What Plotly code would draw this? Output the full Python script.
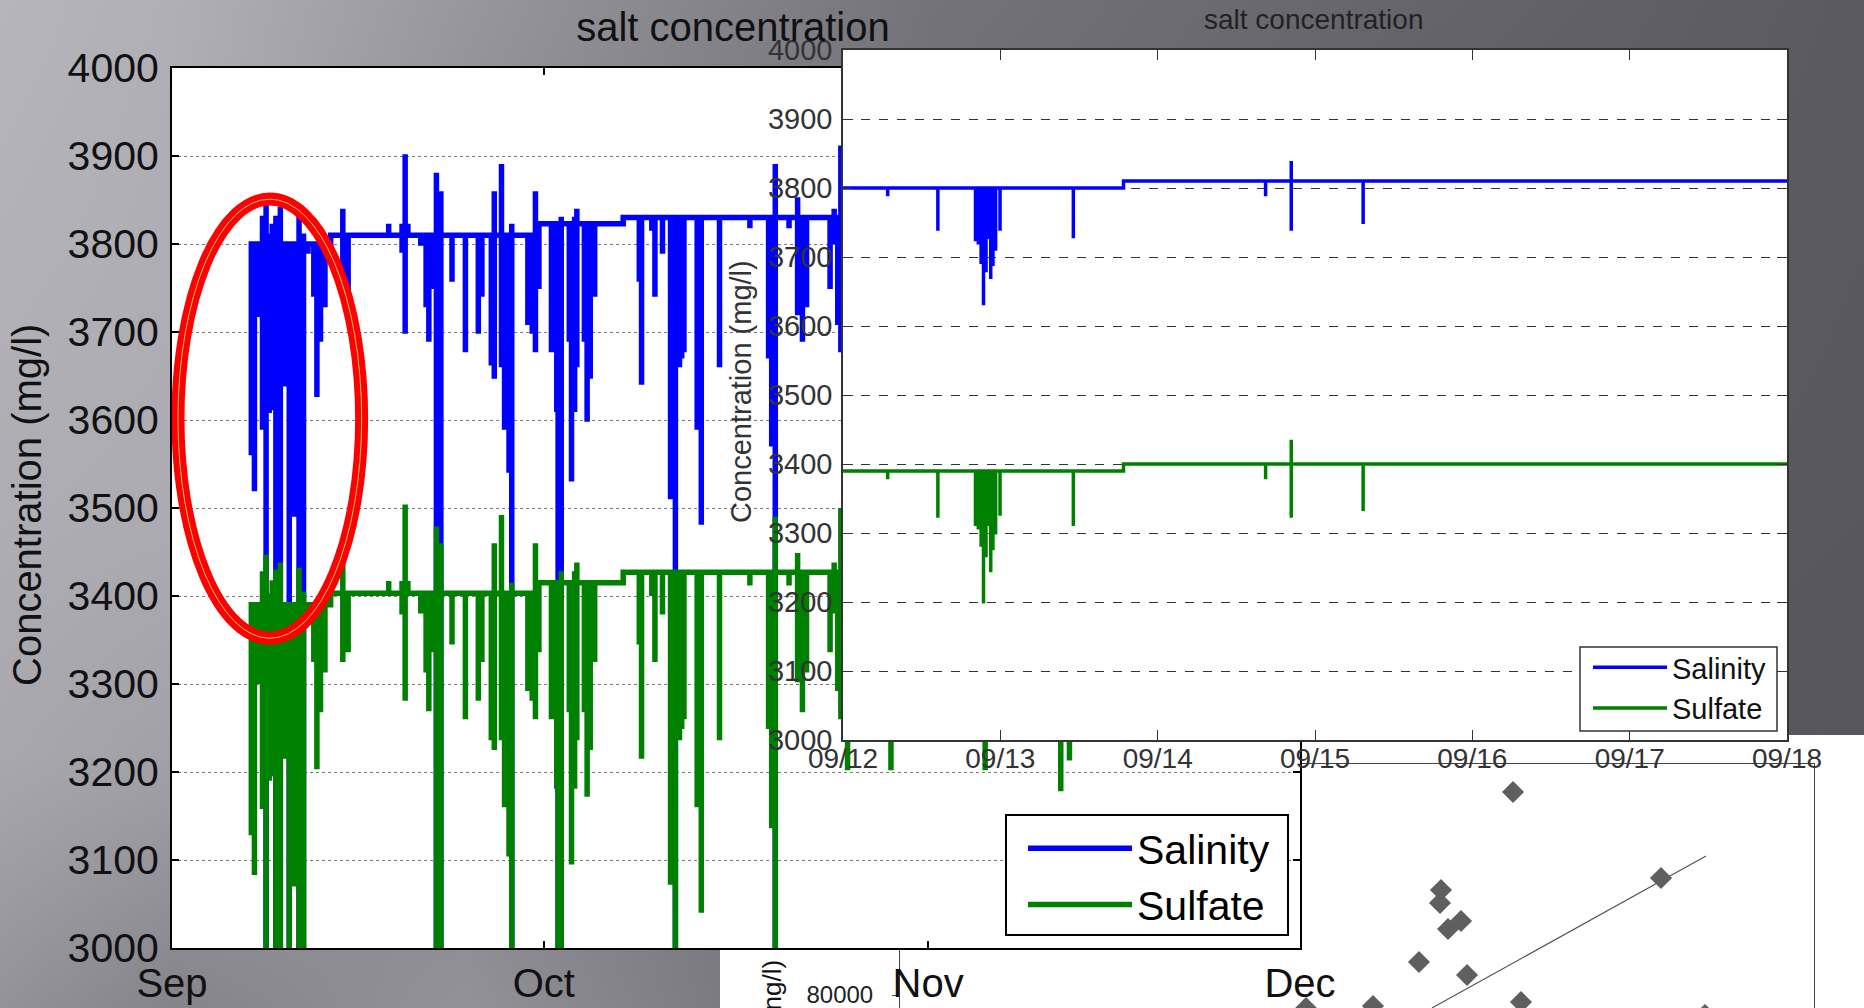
import plotly.graph_objects as go

W, H = 1864, 1008
FONT = "Liberation Sans"

# ---- backdrop grey levels (slide background)
BG_X = [0, 172, 466, 932, 1398, 1864]
BG_Y = [0, 252, 504, 756, 1008]
BG_LEVEL = [
    [186, 180, 155, 118, 104, 92],
    [182, 178, 145, 112, 96, 91],
    [178, 176, 135, 110, 94, 90],
    [172, 165, 135, 112, 92, 88],
    [150, 135, 150, 106, 90, 88],
]

# ---- main chart: days since 1 Sep
MONTH_TICKS = [0, 30, 61, 91]
MONTH_LABELS = ["Sep", "Oct", "Nov", "Dec"]
CONC_TICKS = [3000, 3100, 3200, 3300, 3400, 3500, 3600, 3700, 3800, 3900, 4000]

STEP_DAYS = [6.4, 12.8, 29.6, 36.4, 91.0]
SAL_BASE = [3800, 3810, 3823, 3830, 3830]
SUL_BASE = [3390, 3403, 3415, 3427, 3427]

SPIKE_DAYS = [6.40, 6.65, 6.87, 7.30, 7.59, 7.84, 8.09, 8.38, 8.74, 9.10, 9.46, 9.82, 10.25, 10.61, 10.97,
              11.44, 11.69, 11.98, 12.34, 13.78, 14.21, 17.48, 18.56, 18.81, 19.03, 20.07, 20.50, 20.72, 21.04,
              21.33, 21.69, 22.59, 23.67, 24.71, 25.00, 25.76, 26.00, 26.58, 26.83, 27.19, 27.41, 28.71, 29.06,
              29.32, 29.60, 30.61, 31.04, 31.15, 31.40, 32.05, 32.23, 32.48, 32.66, 33.27, 33.49, 33.74, 34.10,
              37.70, 37.88, 38.71, 38.96, 39.57, 40.22, 40.61, 40.94, 41.12, 41.30, 42.37, 42.70, 44.17, 46.62,
              48.13, 48.38, 48.67, 49.78, 50.47, 50.86, 51.19, 53.09, 53.42, 53.71, 53.96,
              54.5, 58.0, 65.6, 71.7, 72.4]
SAL_LOW = [3560, 3519, 3717, 3589, 3000, 3608, 3611, 3000, 3000, 3638, 3000, 3490, 3000, 3000, 3789,
           3740, 3626, 3689, 3728, 3745, 3747, None, 3790, 3698, None, 3798, 3728, 3689, 3749,
           3000, 3000, 3757, 3677, 3698, 3740, 3662, 3647, 3660, 3589, 3540, 3000, 3708, 3698,
           3677, 3749, 3677, 3609, 3000, 3000, 3689, 3530, 3609, 3660, 3689, 3598, 3647, 3740,
           3757, 3640, 3815, 3740, 3789, 3510, 3000, 3660, 3670, 3677, 3589, 3481, 3660, 3818,
           3670, 3570, 3000, 3818, 3719, 3689, 3728, 3749, 3800, 3708, 3677,
           3620, 3620, 3620, 3595, 3630]
SAL_HIGH = [3792, 3802, 3802, 3832, 3853, 3812, 3823, 3832, 3842, 3802, 3802, 3802, 3834, 3812, 3802,
            None, None, None, None, 3840, None, 3823, 3823, 3902, 3823, None, None, None, None,
            3881, 3860, None, None, None, None, None, 3860, 3891, None, None, 3823, None, None,
            3860, None, None, None, None, 3831, None, None, 3831, 3840, None, None, None, None,
            None, None, None, None, None, None, None, None, None, None, None, None, None, None,
            None, None, 3891, None, 3853, None, None, None, 3840, None, 3912,
            None, None, None, None, None]
SUL_LOW = [3128, 3083, 3300, 3158, 3000, 3190, 3195, 3000, 3000, 3215, 3000, 3070, 3000, 3000, 3370,
           3325, 3203, 3268, 3313, 3325, 3336, None, 3379, 3281, None, 3380, 3313, 3269, 3336,
           3000, 3000, 3345, 3260, 3281, 3325, 3236, 3225, 3236, 3160, 3104, 3000, 3292, 3281,
           3260, 3336, 3260, 3181, 3000, 3000, 3268, 3095, 3181, 3236, 3268, 3172, 3225, 3325,
           3345, 3215, 3400, 3325, 3379, 3072, 3000, 3236, 3249, 3260, 3160, 3040, 3236, 3412,
           3249, 3136, 3000, 3412, 3302, 3268, 3313, 3336, 3380, 3292, 3260,
           3202, 3202, 3202, 3178, 3213]
SUL_HIGH = [3380, 3392, 3392, 3428, 3447, 3403, 3418, 3430, 3438, 3392, 3392, 3392, 3432, 3405, 3392,
            None, None, None, None, 3438, None, 3417, 3417, 3504, 3417, None, None, None, None,
            3479, 3460, None, None, None, None, None, 3460, 3492, None, None, 3415, None, None,
            3460, None, None, None, None, 3428, None, None, 3428, 3438, None, None, None, None,
            None, None, None, None, None, None, None, None, None, None, None, None, None, None,
            None, None, 3490, None, 3449, None, None, None, 3438, None, 3500,
            None, None, None, None, None]

# ---- inset: days since 09/12
INSET_TICKS = [0, 1, 2, 3, 4, 5, 6]
INSET_LABELS = ["09/12", "09/13", "09/14", "09/15", "09/16", "09/17", "09/18"]
I_STEP_DAYS = [0.0, 1.783, 6.0]
I_SAL_BASE = [3800, 3810, 3810]
I_SUL_BASE = [3390, 3400, 3400]
I_DAYS = [0.284, 0.603, 0.842, 0.860, 0.878, 0.893, 0.909, 0.926, 0.939, 0.953, 0.970, 0.998, 1.464, 2.686, 2.849, 3.306]
I_SAL_LOW = [3788, 3738, 3723, 3718, 3690, 3630, 3678, 3726, 3668, 3687, 3709, 3738, 3727, 3788, 3738, 3748]
I_SAL_HIGH = [None] * 14 + [3839, None]
I_SUL_LOW = [3378, 3322, 3310, 3305, 3280, 3198, 3265, 3310, 3243, 3275, 3298, 3325, 3310, 3378, 3322, 3332]
I_SUL_HIGH = [None] * 14 + [3435, None]

# ---- scatter panel partly visible at lower right
SC_X = [67.07, 83.26, 59.19, 59.08, 61.38, 59.96, 56.78, 62.04, 51.75, 67.94, 44.42, 88.07]
SC_Y = [112480, 98720, 96800, 94720, 91840, 90560, 85280, 83200, 78240, 78880, 77900, 76800]
FIT_X = [58.2, 88.18]
FIT_Y = [77920, 102240]

# ---- red ellipse extents in main-chart data units
ELLIPSE_X = [0.48, 15.3]
ELLIPSE_Y = [3352, 3851]


def base_at(d, steps, vals):
    v = vals[0]
    for s, b in zip(steps, vals):
        if d >= s:
            v = b
    return v


def trace_path(days, lows, highs, steps, vals):
    xs, ys = [], []
    events = sorted(list(zip(days, lows, highs)) + [(s, None, None) for s in steps], key=lambda e: e[0])
    for d, lo, hi in events:
        b = base_at(d, steps, vals)
        if ys:
            xs.append(d); ys.append(ys[-1])
        xs.append(d); ys.append(b)
        if hi is not None:
            xs.append(d); ys.append(hi)
        if lo is not None:
            xs.append(d); ys.append(lo)
        if hi is not None or lo is not None:
            xs.append(d); ys.append(b)
    return xs, ys


def xd(a, b):
    return [a / W, b / W]


def yd(top, bottom):
    return [1 - bottom / H, 1 - top / H]


fig = go.Figure()

# backdrop
fig.add_trace(go.Heatmap(x=BG_X, y=BG_Y, z=BG_LEVEL, zmin=0, zmax=255, zsmooth="best", showscale=False, hoverinfo="skip",
                         colorscale=[[0, "rgb(0,0,6)"], [1, "rgb(250,248,255)"]], xaxis="x", yaxis="y"))
fig.add_trace(go.Scatter(x=[720, 1864, 1864, 720, 720, None, 1300, 1864, 1864, 1300, 1300],
                         y=[948, 948, 1008, 1008, 948, None, 735, 735, 1008, 1008, 735],
                         mode="none", fill="toself", fillcolor="white", showlegend=False, hoverinfo="skip", xaxis="x", yaxis="y"))

# scatter panel
fig.add_trace(go.Scatter(x=FIT_X, y=FIT_Y, mode="lines", line=dict(color="#555555", width=1.2), showlegend=False,
                         xaxis="x2", yaxis="y2"))
fig.add_trace(go.Scatter(x=SC_X, y=SC_Y, mode="markers", marker=dict(symbol="diamond", size=17, color="#5f5f5f"),
                         showlegend=False, xaxis="x2", yaxis="y2"))

# main chart
x, y = trace_path(SPIKE_DAYS, SAL_LOW, SAL_HIGH, STEP_DAYS, SAL_BASE)
fig.add_trace(go.Scatter(x=x, y=y, mode="lines", name="Salinity", line=dict(color="#0000ff", width=5.5, simplify=False),
                         xaxis="x3", yaxis="y3", legend="legend"))
x, y = trace_path(SPIKE_DAYS, SUL_LOW, SUL_HIGH, STEP_DAYS, SUL_BASE)
fig.add_trace(go.Scatter(x=x, y=y, mode="lines", name="Sulfate", line=dict(color="#008000", width=5.5, simplify=False),
                         xaxis="x3", yaxis="y3", legend="legend"))

# inset
x, y = trace_path(I_DAYS, I_SAL_LOW, I_SAL_HIGH, I_STEP_DAYS, I_SAL_BASE)
fig.add_trace(go.Scatter(x=x, y=y, mode="lines", name="Salinity", line=dict(color="#0000ff", width=3.5, simplify=False),
                         xaxis="x4", yaxis="y4", legend="legend2"))
x, y = trace_path(I_DAYS, I_SUL_LOW, I_SUL_HIGH, I_STEP_DAYS, I_SUL_BASE)
fig.add_trace(go.Scatter(x=x, y=y, mode="lines", name="Sulfate", line=dict(color="#008000", width=3.5, simplify=False),
                         xaxis="x4", yaxis="y4", legend="legend2"))

hidden = dict(visible=False, showgrid=False, zeroline=False)

main_y = dict(domain=yd(68, 948), anchor="x3", range=[3000, 4000], tickvals=CONC_TICKS, ticks="inside", ticklen=7,
              tickwidth=2, tickcolor="#000", showline=True, linecolor="#000", linewidth=2, mirror="ticks",
              showgrid=True, gridcolor="#777777", griddash="dot", gridwidth=1, zeroline=False,
              tickformat="d", tickfont=dict(family=FONT, size=41, color="#111"), ticklabelstandoff=3,
              ticklabeloverflow="allow")
main_x = dict(domain=xd(172, 1300), anchor="y3", range=[0, 91], tickvals=MONTH_TICKS, ticktext=MONTH_LABELS,
              ticks="inside", ticklen=7, tickwidth=2, tickcolor="#000", showline=True, linecolor="#000", linewidth=2,
              mirror="ticks", showgrid=False, zeroline=False, tickfont=dict(family=FONT, size=40, color="#111"),
              ticklabelstandoff=-1, ticklabeloverflow="allow")
ins_y = dict(domain=yd(50, 740), anchor="x4", range=[3000, 4000], tickvals=CONC_TICKS, ticks="inside", ticklen=10,
             tickwidth=1, tickcolor="#333", showline=True, linecolor="#333", linewidth=1.5, mirror="ticks",
             showgrid=True, gridcolor="#333", griddash="dash", gridwidth=1, zeroline=False,
             tickformat="d", tickfont=dict(family=FONT, size=29, color="#333"), ticklabelstandoff=3,
             ticklabeloverflow="allow")
ins_x = dict(domain=xd(843, 1787), anchor="y4", range=[0, 6], tickvals=INSET_TICKS, ticktext=INSET_LABELS,
             ticks="inside", ticklen=10, tickwidth=1, tickcolor="#333", showline=True, linecolor="#333", linewidth=1.5,
             mirror="ticks", showgrid=False, zeroline=False, tickfont=dict(family=FONT, size=28, color="#333"),
             ticklabelstandoff=-7, ticklabeloverflow="allow")

ellipse = dict(type="circle", xref="x3", yref="y3", x0=ELLIPSE_X[0], x1=ELLIPSE_X[1], y0=ELLIPSE_Y[0], y1=ELLIPSE_Y[1],
               layer="above")

fig.update_layout(
    template="none",
    width=W, height=H, autosize=False, margin=dict(l=0, r=0, t=0, b=0, pad=0),
    paper_bgcolor="white", plot_bgcolor="white",
    font=dict(family=FONT),
    title=dict(text="salt concentration", x=733 / W, y=1 - 27 / H, xref="paper", yref="paper", xanchor="center",
               yanchor="middle", font=dict(family=FONT, size=40, color="#111")),
    xaxis=dict(domain=[0, 1], range=[0, W], anchor="y", **hidden),
    yaxis=dict(domain=[0, 1], range=[H, 0], anchor="x", **hidden),
    xaxis2=dict(domain=xd(900, 1814), range=[0, 100], anchor="y2", side="top", showline=True, linecolor="#444",
                linewidth=1, showgrid=False, zeroline=False, ticks="", showticklabels=False),
    yaxis2=dict(domain=yd(764, 1008), range=[77920, 116960], anchor="x2", showline=True, linecolor="#444", linewidth=1,
                mirror=True, showgrid=False, zeroline=False, tickvals=[80000], tickformat="d", ticks="outside",
                ticklen=7, tickcolor="#444", tickfont=dict(family=FONT, size=24, color="#222"),
                ticklabelstandoff=14, ticklabeloverflow="allow"),
    xaxis3=main_x, yaxis3=main_y, xaxis4=ins_x, yaxis4=ins_y,
    legend=dict(x=1023 / W, y=1 - 815 / H, xanchor="left", yanchor="top", bgcolor="rgba(0,0,0,0)", borderwidth=0,
                font=dict(family=FONT, size=41, color="#000"), itemwidth=104, tracegroupgap=0, traceorder="normal"),
    legend2=dict(x=1588 / W, y=1 - 642 / H, xanchor="left", yanchor="top", bgcolor="rgba(0,0,0,0)", borderwidth=0,
                 font=dict(family=FONT, size=29, color="#111"), itemwidth=74, tracegroupgap=0, traceorder="normal"),
    shapes=[
        dict(ellipse, line=dict(color="#fe0000", width=13)),
        dict(ellipse, line=dict(color="#c9c96a", width=1)),
        dict(type="rect", xref="paper", yref="paper", x0=1006 / W, x1=1288 / W, y0=1 - 935 / H, y1=1 - 815 / H,
             fillcolor="white", line=dict(color="#000", width=2), layer="above"),
        dict(type="rect", xref="paper", yref="paper", x0=1580 / W, x1=1777 / W, y0=1 - 731 / H, y1=1 - 647 / H,
             fillcolor="white", line=dict(color="#333", width=1.5), layer="above"),
    ],
    annotations=[
        dict(text="salt concentration", x=1313 / W, y=1 - 19 / H, xref="paper", yref="paper", showarrow=False,
             xanchor="center", yanchor="middle", font=dict(family=FONT, size=28, color="#222")),
        dict(text="Concentration (mg/l)", x=27 / W, y=1 - 505 / H, xref="paper", yref="paper", showarrow=False,
             xanchor="center", yanchor="middle", textangle=-90, font=dict(family=FONT, size=40, color="#111")),
        dict(text="Concentration (mg/l)", x=741 / W, y=1 - 392 / H, xref="paper", yref="paper", showarrow=False,
             xanchor="center", yanchor="middle", textangle=-90, font=dict(family=FONT, size=29, color="#333")),
        dict(text="ng/l)", x=771 / W, y=1 - 958 / H, xref="paper", yref="paper", showarrow=False, xanchor="center",
             yanchor="top", textangle=-90, font=dict(family=FONT, size=26, color="#111")),
    ],
)

fig.write_html("out.html", config={"displayModeBar": False},
               post_script="document.body.style.margin='0';document.body.style.overflow='hidden';")
